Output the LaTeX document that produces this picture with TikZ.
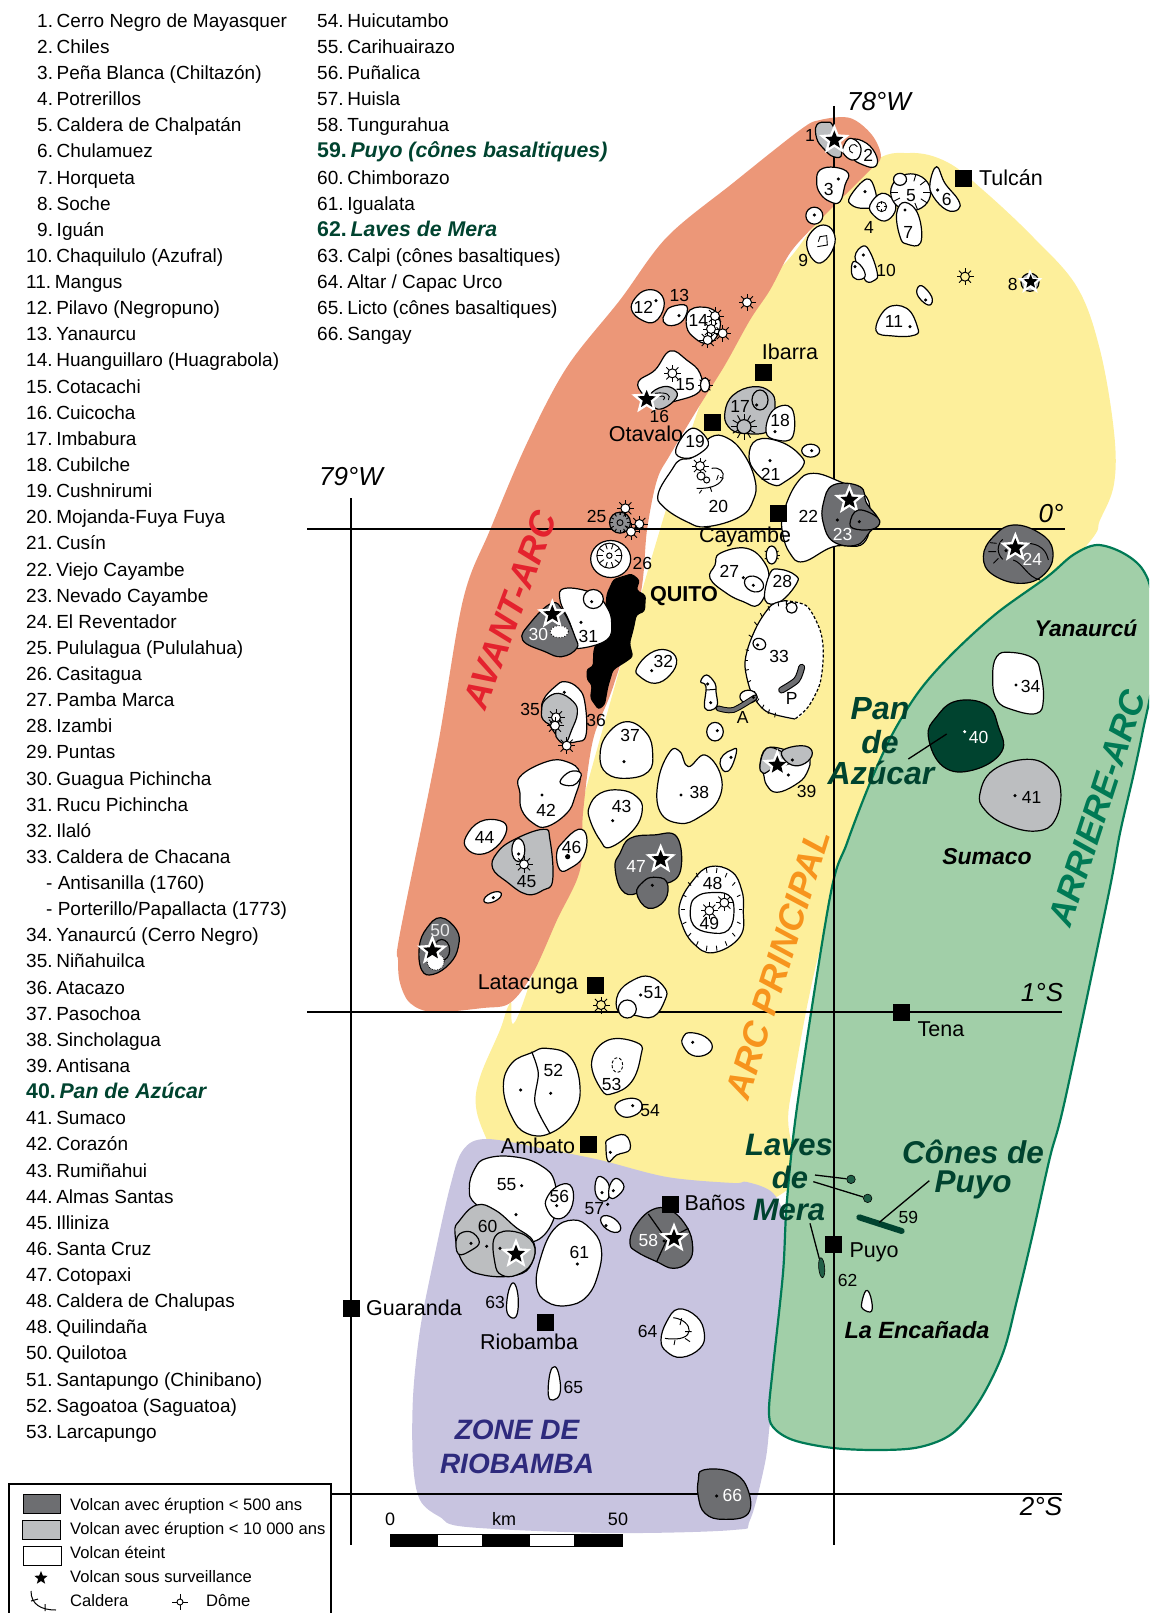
\documentclass[tikz,border=0pt]{standalone}
\usepackage{fontspec}
\setmainfont{Liberation Sans}
\usetikzlibrary{shapes.geometric}
\definecolor{zred}{HTML}{EC9778}
\definecolor{zyel}{HTML}{FDEF9B}
\definecolor{zpur}{HTML}{C8C4E0}
\definecolor{zgre}{HTML}{A1CFA8}
\definecolor{zedge}{HTML}{007A55}
\definecolor{gdark}{HTML}{6D6E71}
\definecolor{glight}{HTML}{BCBEC0}
\definecolor{dgreen}{HTML}{00432F}
\definecolor{tred}{HTML}{E4222E}
\definecolor{torange}{HTML}{F7941D}
\definecolor{tpur}{HTML}{2E2A7D}
\newcounter{nn}
\newcommand\fs[1]{\fontsize{#1}{#1}\selectfont}
\tikzset{
 zt/.style={inner sep=0pt,align=center},
 z1/.style={shift={(600,90)},x=.33333pt,y=-.33333pt},
 z2/.style={shift={(480,480)},x=.33333pt,y=-.33333pt},
 z3/.style={shift={(400,860)},x=.33333pt,y=-.33333pt},
 z5/.style={shift={(440,1130)},x=.33333pt,y=-.33333pt},
 z6/.style={shift={(780,500)},x=.33333pt,y=-.33333pt},
 z7/.style={shift={(600,400)},x=.33333pt,y=-.33333pt},
 z8/.style={shift={(740,1100)},x=.33333pt,y=-.33333pt},
 z9/.style={shift={(400,740)},x=.33333pt,y=-.33333pt},
 vol/.style={draw=black,line width=1.2pt,line join=round},
 whitestar/.style={star,star points=5,star point ratio=2.3,fill=white,draw=none,minimum size=32pt,inner sep=0pt},
 blackstar/.style={star,star points=5,star point ratio=2.3,fill=black,draw=none,minimum size=19pt,inner sep=0pt},
 city/.style={rectangle,fill=black,minimum size=17pt,inner sep=0pt},
 grat/.style={line width=1.2pt,black},
 leader/.style={line width=1.3pt,black},
}
\newcommand\vb[2][white]{\draw[vol,fill=#1] plot[smooth cycle,tension=.72] coordinates {#2};}
\newcommand\dt[2][black]{\fill[#1] (#2) circle (1.7pt);}
\newcommand\lb[3][black]{\stepcounter{nn}\node[zt,text=#1,font=\fs{17.5}] (n\arabic{nn}) at (#2) {#3};}
\newcommand\ct[2]{\stepcounter{nn}\node[zt,font=\fs{21.5}] (n\arabic{nn}) at (#1) {#2};}
\newcommand\sq[1]{\stepcounter{nn}\node[city] (n\arabic{nn}) at (#1) {};}
\newcommand\stk[1]{\stepcounter{nn}\node[whitestar] (n\arabic{nn}) at (#1) {};\stepcounter{nn}\node[blackstar] (n\arabic{nn}) at (#1) {};}
\newcommand\dome[2][white]{\begin{scope}[shift={(#2)}]\foreach \a in {0,45,...,315}{\draw[line width=.9pt] (\a:4pt) -- (\a:8.5pt);}\draw[line width=1pt,fill=#1] (0,0) circle (4.5pt);\end{scope}}
\newcommand\ticks[6][.88]{\foreach \a in {#6}{\draw[line width=.9pt] ({#2+#4*cos(\a)},{#3+#5*sin(\a)}) -- ({#2+#1*#4*cos(\a)},{#3+#1*#5*sin(\a)});}}
\def\splitnum#1. #2\nil{#1.\hspace{3.7pt}#2}
\newcommand\tl[3]{\stepcounter{nn}\node[zt,anchor=base west,font=\fs{19}] (n\arabic{nn}) at ({#2},{27.3+26.13*(#1-1)}) {\splitnum#3\nil};}
\newcommand\tm[3]{\stepcounter{nn}\node[zt,anchor=base west,font=\fs{19}] (n\arabic{nn}) at ({#2},{27.3+26.13*(#1-1)}) {#3};}
\newcommand\tg[3]{\stepcounter{nn}\node[zt,anchor=base west,font=\fs{21.3}\bfseries,text=dgreen] (n\arabic{nn}) at ({#2},{27.3+26.13*(#1-1)}) {\splitnum#3\nil};}
\newcommand\bi[4][dgreen]{\stepcounter{nn}\node[zt,text=#1,font=\fs{#3}\bfseries\itshape] (n\arabic{nn}) at (#2) {#4};}
\begin{document}
\begin{tikzpicture}[x=1pt,y=-1pt]
\useasboundingbox (0,0) rectangle (1149,1613);
\clip (0,0) rectangle (1149,1613);
% zones
\fill[zyel] plot[smooth cycle,tension=.6] coordinates {(870,165)(910,153)(947,162)(983,190)(1033,237)(1077,287)(1100,350)(1114,432)(1114,484)(1100,520)(1087,545)(1000,640)(850,860)(790,1100)(787,1190)(600,1250)(510,1185)(487,1140)(476,1107)(480,1077)(500,1030)(510,1003)(533,973)(700,405)(800,245)};
\fill[zred] plot[smooth cycle,tension=.55] coordinates {(820,120)(850,118)(872,135)(881,157)(870,170)(847,193)(815,225)(790,253)(770,290)(750,320)(725,365)(700,405)(670,455)(657,480)(647,530)(640,597)(613,687)(593,740)(583,813)(580,870)(557,920)(533,973)(510,1003)(483,1008)(433,1012)(410,1003)(400,983)(398,960)(400,933)(437,750)(463,600)(490,530)(527,443)(567,367)(620,300)(667,237)(733,183)(800,130)};
\fill[zpur] plot[smooth cycle,tension=.55] coordinates {(487,1139)(550,1150)(600,1160)(667,1177)(733,1183)(747,1182)(773,1193)(787,1223)(787,1247)(777,1380)(770,1423)(765,1463)(750,1520)(733,1530)(607,1533)(467,1527)(440,1517)(420,1500)(413,1463)(413,1397)(420,1330)(433,1263)(450,1187)(463,1150)};
\draw[draw=zedge,fill=zgre,line width=2.2pt] plot[smooth cycle,tension=.55] coordinates {(830,897)(847,843)(870,783)(893,733)(920,690)(953,653)(997,613)(1047,577)(1073,555)(1097,545)(1123,553)(1143,570)(1152,600)(1152,680)(1143,730)(1133,777)(1120,833)(1108,897)(1065,1100)(1050,1157)(1033,1233)(1017,1300)(1003,1353)(980,1400)(953,1433)(920,1447)(880,1450)(833,1448)(793,1440)(773,1427)(769,1410)(773,1367)(783,1273)(787,1200)(798,1100)};
% graticule
\coordinate (g0a) at (307,529); \coordinate (g0b) at (1065,529);
\coordinate (g1a) at (307,1012); \coordinate (g1b) at (1062,1012);
\coordinate (g2a) at (331,1494); \coordinate (g2b) at (1062,1494);
\coordinate (v79a) at (351,498); \coordinate (v79b) at (351,1545);
\coordinate (v78a) at (834,106); \coordinate (v78b) at (834,1545);
\draw[grat] (g0a)--(g0b); \draw[grat] (g1a)--(g1b); \draw[grat] (g2a)--(g2b);
\draw[grat] (v79a)--(v79b); \draw[grat] (v78a)--(v78b);
% zone names
\bi[tred]{510,610}{36}{\rotatebox{69.5}{AVANT-ARC}}
\bi[torange]{778,964}{36}{\rotatebox{72.8}{ARC PRINCIPAL}}
\bi[zedge]{1097,808}{35}{\rotatebox{72}{ARRIERE-ARC}}
\bi[tpur]{517,1430}{28}{ZONE DE}
\bi[tpur]{517,1464}{28}{RIOBAMBA}
% --- north (z1)
\begin{scope}[z1]
\vb[glight]{(650,105)(680,97)(700,110)(725,190)(700,200)(670,175)(650,145)}
\vb{(755,150)(800,160)(830,200)(825,230)(790,225)(755,200)}
\vb{(730,170)(750,145)(780,165)(778,200)(755,210)(730,190)}
\draw[line width=.9pt] (772,170) arc (-30:-260:13);
\stk{703,150}
\lb{630,135}{1}\lb{805,197}{2}
\vb{(660,240)(705,232)(745,250)(735,285)(720,335)(690,335)(660,310)(650,275)}\dt{715,267}\lb{686,298}{3}
\draw[vol,fill=white] (643,377) circle (8.5pt);\dt{643,375}
\vb{(670,405)(700,425)(702,470)(670,515)(640,510)(620,465)(635,425)}
\draw[line width=.9pt] (655,455)--(660,440)--(680,437)--(682,465)--(652,470);
\lb{610,510}{9}
\vb{(800,267)(825,300)(825,345)(790,355)(755,345)(750,320)}\dt{795,305}
\vb{(845,310)(880,330)(885,365)(855,393)(820,375)(810,345)}
\draw[line width=.9pt] (845,350) circle (5pt);
\ticks[.5]{845}{350}{13}{13}{0,90,180,270}
\lb{807,412}{4}
\draw[vol,fill=white] (932,307) ellipse (20pt and 18.5pt);
\ticks[.62]{932}{307}{60}{55}{0,35,70,110,150,180,215,250,285,320}
\draw[vol,fill=white] (900,268) ellipse (6.5pt and 6pt);
\lb{933,318}{5}
\vb{(1010,230)(1035,280)(1075,330)(1075,358)(1040,360)(1000,320)(990,280)}\dt{1013,300}\lb{1040,327}{6}
\vb{(915,337)(955,375)(962,458)(920,462)(900,440)(890,370)}\dt{915,360}\lb{925,428}{7}
\vb{(790,468)(812,490)(832,550)(825,570)(800,575)(785,545)(765,500)}\dt{790,495}
\vb{(760,515)(785,530)(795,560)(770,568)(755,550)}\dt{765,530}\lb{858,540}{10}
\vb{(965,587)(995,620)(990,645)(965,632)(950,605)}\dt{977,630}
\vb{(860,655)(920,655)(952,710)(945,735)(880,738)(828,722)}\dt{930,710}\lb{882,695}{11}
\dome[zyel]{1095,560}
\draw[vol,fill=glight] (1290,577) circle (9pt);
\stepcounter{nn}\node[star,star points=5,star point ratio=2.3,fill=white,minimum size=26pt,inner sep=0pt] (n\arabic{nn}) at (1290,577) {};
\stepcounter{nn}\node[star,star points=5,star point ratio=2.3,fill=black,minimum size=15pt,inner sep=0pt] (n\arabic{nn}) at (1292,575) {};
\lb{1238,582}{8}
\dome{441,637}
\vb{(140,600)(180,610)(192,650)(165,695)(125,690)(95,660)(105,625)}\dt{168,632}\lb{130,652}{12}
\vb{(195,670)(215,650)(260,648)(250,690)(215,707)(190,695)}\dt{237,677}\lb{238,615}{13}
\vb{(270,660)(330,655)(360,690)(350,740)(320,760)(285,745)(260,710)}\lb{295,690}{14}
\dome{345,678}\dome{333,717}\dome{368,730}\dome{323,750}
\vb{(210,783)(260,810)(300,850)(298,905)(220,935)(165,945)(130,915)(115,875)(165,840)}\lb{255,885}{15}
\dome{217,850}
\foreach \a in {0,45,...,315}{\draw[line width=.9pt] (315,885) -- ++(\a:7.5pt);}
\draw[vol,fill=white] (315,885) ellipse (4.5pt and 7pt);
\vb[glight]{(150,915)(190,890)(225,900)(228,925)(190,955)(160,950)}
\draw[line width=.9pt] (165,910)..controls (200,905) and (215,915)..(205,930);
\draw[line width=.9pt] (175,920)..controls (190,915) and (200,920)..(190,930);
\stk{140,928}\lb{178,980}{16}
\vb[glight]{(400,915)(460,890)(510,905)(525,945)(510,1020)(430,1030)(385,1010)(375,965)}
\draw[vol] (480,930) ellipse (8pt and 10pt);\dt{470,945}
\foreach \a in {0,30,...,330}{\draw[line width=.9pt] (432,1010) ++(\a:7pt) -- ++(\a:6pt);}
\draw[vol,fill=glight] (432,1010) circle (7pt);
\lb{420,950}{17}
\vb{(520,960)(575,955)(578,1040)(530,1050)(498,1025)}\dt{525,1025}\lb{540,992}{18}
\end{scope}
% --- center (z7)
\begin{scope}[z7]
\vb{(330,113)(380,113)(430,160)(465,240)(460,300)(420,350)(320,380)(260,365)(190,320)(175,280)(215,210)(240,180)(280,170)}
\vb{(275,85)(325,125)(300,160)(255,175)(227,150)}
\lb{285,125}{19}\lb{355,318}{20}
\dome{300,198}
\draw[line width=1pt,fill=white] (303,228) circle (4pt);\draw[line width=1pt,fill=white] (320,240) circle (3pt);
\draw[line width=1pt] (335,205)..controls (385,195) and (390,270)..(290,265);
\draw[line width=.9pt] (355,225)--(350,240) (330,260)--(335,275) (305,270)--(298,280) (370,235)--(360,232);
\vb{(470,120)(540,125)(600,165)(608,200)(555,245)(520,255)(470,220)(447,170)}\dt{510,182}\lb{512,222}{21}
\draw[vol,fill=white] (632,152) ellipse (9pt and 6.5pt);\dt{635,152}
\vb{(640,220)(720,245)(790,280)(810,340)(790,430)(700,440)(610,485)(570,460)(548,400)(550,340)(590,250)}\lb{625,348}{22}
\vb[gdark]{(700,255)(780,260)(800,310)(835,360)(810,395)(770,435)(700,425)(670,370)(670,310)}
\stk{748,300}\dt{712,360}
\vb[gdark]{(775,330)(835,355)(825,385)(770,388)(750,370)}\dt{778,365}
\lb[white]{728,403}{23}
\end{scope}
% --- z6 (east)
\begin{scope}[z6]
\vb[gdark]{(700,75)(780,100)(818,150)(800,215)(730,250)(640,225)(610,170)(640,110)}
\draw[line width=1pt] (668,118)..controls (650,135) and (650,160)..(668,178);
\draw[line width=.9pt] (650,130)--(630,128) (648,155)--(625,155) (655,175)--(640,190);
\draw[line width=1pt] (720,130)..controls (790,125) and (800,160)..(805,180) (700,180)..controls (730,190) and (740,230)..(780,240);
\dt{678,152}\stk{706,143}\lb[white]{757,177}{24}
\vb{(690,457)(760,475)(782,520)(790,600)(770,640)(700,630)(650,600)(638,530)(650,470)}\dt{708,555}\lb{752,560}{34}
\vb[dgreen]{(530,603)(620,615)(655,680)(665,755)(580,810)(490,800)(445,710)(470,650)}\dt[white]{554,695}\lb[white]{596,713}{40}
\vb[glight]{(740,778)(810,805)(842,870)(825,960)(770,993)(680,975)(615,930)(600,880)(640,810)}\dt{705,887}\lb{755,893}{41}
\coordinate (panA) at (385,777);\coordinate (panB) at (500,702);
\draw[leader] (panA)--(panB);
\end{scope}
% --- z2 (Quito area)
\begin{scope}[z2]
\draw[vol,fill=gdark!60!glight] (420,128) circle (10.5pt);
\draw[line width=.9pt] (420,128) circle (3pt);
\ticks[.72]{420}{128}{30}{30}{0,30,...,330}
\dome{436,85}\dome{478,132}\dome{453,155}
\lb{350,110}{25}
\draw[vol,fill=white] (392,237) ellipse (20pt and 18.5pt);
\draw[line width=1pt] (388,227) circle (12.5pt);
\draw[line width=1pt] (388,227) circle (2.7pt);
\ticks[.55]{388}{227}{37}{37}{0,36,...,324}
\lb{487,250}{26}
\fill[black,rounded corners=3pt] (400,297)--(455,280)--(480,300)--(470,330)--(498,345)--(495,395)--(470,405)--(462,445)--(450,490)--(460,530)--(440,545)--(400,570)--(385,620)--(375,675)--(355,690)--(330,655)--(335,615)--(320,600)--(320,565)--(338,560)--(340,510)--(370,430)--(380,340)--cycle;
\vb{(255,325)(340,340)(380,380)(395,430)(380,480)(300,505)(288,490)(270,430)(240,360)}
\draw[vol,fill=white] (340,357) ellipse (10pt and 9.5pt);\dt{335,365}\dt{303,427}\lb{325,468}{31}
\vb[gdark]{(215,370)(250,395)(285,470)(290,505)(245,530)(195,515)(128,480)(150,430)}
\stk{217,403}
\draw[fill=white,line width=.9pt,dotted] (238,455) ellipse (9pt and 6pt);
\lb[white]{175,463}{30}
\vb{(510,520)(560,510)(590,540)(570,585)(525,610)(480,590)(470,565)}\dt{515,572}\lb{550,543}{32}
\vb{(720,220)(800,205)(855,250)(865,310)(835,375)(790,365)(740,340)(690,295)(705,255)}\dt{790,293}
\draw[vol,rotate around={-25:(822,312)}] (822,312) ellipse (10pt and 7.5pt);\dt{820,316}\lb{748,275}{27}
\vb{(900,268)(945,285)(950,310)(900,365)(855,360)(870,280)}\lb{907,305}{28}
\foreach \a in {-30,0,30,150,210}{\draw[line width=.9pt] (875,225) -- ++(\a:8pt);}
\draw[vol,fill=white] (875,225) ellipse (5.5pt and 9pt);
% 33
\fill[white] plot[smooth cycle] coordinates {(915,362)(980,378)(1020,450)(1030,520)(1020,610)(985,680)(945,717)(860,695)(815,640)(795,560)(805,500)(835,430)(875,375)};
\draw[vol] plot[smooth] coordinates {(915,362)(875,375)(835,430)(805,500)(795,560)(815,640)(860,695)(945,717)};
\draw[vol,densely dashed] plot[smooth] coordinates {(915,362)(980,378)(1020,450)(1030,520)(1020,610)(985,680)(945,717)};
\ticks[.92]{915}{540}{120}{178}{105,115,125,135,145,158,170,180,190,205,220,232,245,260,272}
\draw[vol] (935,383) circle (5.5pt);
\draw[vol,rotate around={-25:(838,492)}] (838,492) ellipse (6.5pt and 5.5pt);\dt{833,495}
\draw[line width=7pt,black,line cap=round] plot[smooth] coordinates {(965,562)(950,600)(905,630)};
\draw[line width=4.8pt,gdark,line cap=round] plot[smooth] coordinates {(965,562)(950,600)(905,630)};
\lb{897,530}{33}\lb{935,655}{P}
\vb{(680,585)(705,610)(708,635)(710,680)(675,685)(678,620)(662,605)}
\draw[line width=1pt] (678,630)--(708,628);\dt{683,612}\dt{692,668}
\draw[vol,fill=white] (805,650) ellipse (8.5pt and 6.5pt);
\draw[line width=5.8pt,black,line cap=round] plot[smooth] coordinates {(715,685)(760,690)(825,652)};
\draw[line width=3.8pt,gdark,line cap=round] plot[smooth] coordinates {(715,685)(760,690)(825,652)};
\dt{820,652}\lb{788,712}{A}
\vb{(225,620)(255,605)(295,625)(315,670)(318,765)(290,785)(250,785)(225,760)(190,700)(190,660)}
\vb[glight]{(195,660)(235,640)(280,665)(292,700)(275,750)(255,790)(228,770)(225,745)(190,720)(185,690)}
\dt{253,637}\dome{228,712}\dome{225,737}\dome{260,797}
\lb{150,687}{35}\lb{348,720}{36}
\vb{(440,725)(500,760)(518,820)(505,875)(440,895)(380,880)(360,830)(380,765)}\dt{432,845}\lb{450,767}{37}
\vb{(570,815)(600,815)(625,860)(675,825)(722,885)(715,960)(660,1010)(600,1030)(540,995)(535,900)}\dt{603,945}\lb{658,938}{38}
\draw[vol,fill=white] (705,755) ellipse (8.3pt and 9.3pt);\dt{712,752}
\vb{(755,810)(770,810)(755,860)(735,875)(720,850)(730,825)}\dt{753,832}
\vb{(860,805)(920,810)(985,830)(980,880)(945,915)(890,937)(860,915)(850,880)(840,855)}
\vb[glight]{(860,805)(905,815)(935,845)(880,865)(850,880)(840,855)}
\stk{892,855}
\vb[glight]{(920,805)(975,798)(997,820)(975,850)(935,855)(905,825)}
\dt{937,840}\dt{925,885}\lb{980,935}{39}
\end{scope}
% --- z9
\begin{scope}[z9]
\vb{(360,110)(440,65)(500,65)(540,100)(525,170)(500,220)(440,260)(400,250)(365,210)(360,160)}
\vb{(480,125)(510,95)(543,100)(530,130)(505,137)}
\dt{426,165}\lb{438,210}{42}
\vb{(600,160)(660,150)(710,170)(727,210)(700,270)(630,322)(600,300)(570,240)(568,200)}\dt{638,242}\lb{665,200}{43}
\vb{(240,245)(300,242)(320,270)(290,320)(240,343)(200,325)(198,290)}\lb{254,292}{44}
\vb[glight]{(430,268)(450,300)(458,420)(430,450)(380,463)(320,425)(278,385)(290,340)(340,300)}
\draw[vol,fill=white] (355,330) ellipse (6.5pt and 11.5pt);\dt{356,342}\dome{372,373}\lb{380,425}{45}
\vb{(535,268)(560,290)(550,350)(510,385)(480,390)(470,340)(490,305)}\fill (503,350) circle (2.6pt);\lb{515,322}{46}
\draw[vol,fill=white,rotate around={25:(278,472)}] (278,472) ellipse (9.5pt and 4.5pt);\dt{280,473}
\vb[gdark]{(690,295)(760,285)(830,290)(842,390)(800,430)(760,412)(710,460)(665,450)(645,380)(660,340)}
\stk{782,358}\lb[white]{708,380}{47}
\vb[gdark]{(760,412)(800,425)(795,480)(745,505)(710,460)(730,425)}\dt{757,436}
\vb{(930,380)(995,395)(1025,450)(1030,510)(1020,590)(940,638)(880,610)(845,550)(840,490)(880,420)}
\ticks{935}{508}{92}{126}{0,20,...,340}
\vb{(930,458)(985,465)(1002,510)(985,570)(930,578)(880,555)(872,500)(890,470)}
\dome{928,512}\dome{973,488}\lb{938,430}{48}\lb{928,550}{49}
\vb[gdark]{(122,533)(170,570)(175,620)(150,670)(100,703)(65,690)(58,620)(80,565)}
\draw[vol] (125,630) ellipse (8pt and 10.5pt);
\draw[fill=white,line width=.8pt,densely dotted] (107,665) circle (8.5pt);
\stk{97,632}\lb[white!85!gdark]{120,572}{50}
\end{scope}
% --- z3
\begin{scope}[z3]
\vb{(700,360)(750,350)(795,385)(795,420)(760,470)(700,465)(655,455)(655,400)}
\draw[vol,fill=white] (682,447) circle (9pt);\dt{722,405}\lb{760,397}{51}
\dome[zyel]{603,435}
\vb{(870,518)(915,530)(937,560)(915,585)(875,585)(848,555)(850,530)}\dt{878,547}
\vb{(440,565)(510,590)(540,680)(520,760)(450,820)(380,820)(335,770)(310,680)(335,610)(395,578)}
\draw[vol] plot[smooth] coordinates {(395,575)(415,640)(405,730)(450,820)};
\dt{362,690}\dt{452,700}\lb{460,630}{52}
\vb{(625,540)(715,550)(722,590)(695,665)(640,700)(605,690)(575,605)}
\draw[line width=.9pt,densely dashed] (652,615) ellipse (5.3pt and 7.3pt);\lb{635,672}{53}
\vb{(690,715)(722,725)(720,755)(680,772)(650,755)(650,730)}\dt{698,737}\lb{750,752}{54}
\vb{(625,838)(675,825)(690,868)(650,885)(625,905)(618,860)}\dt{631,877}
\vb{(260,895)(340,890)(420,915)(465,970)(460,1080)(400,1145)(340,1110)(230,1035)(208,985)(225,925)}
\dt{365,977}\dt{348,1064}\lb{320,975}{55}
\vb{(470,980)(510,975)(520,1020)(500,1065)(465,1075)(440,1045)(440,1015)}\dt{470,1037}\lb{478,1008}{56}
\vb{(595,950)(625,970)(625,1015)(600,1020)(585,990)}\dt{606,998}
\vb{(650,955)(672,980)(650,1010)(628,1012)(630,975)}\dt{640,992}
\lb{583,1047}{57}\dt{623,1033}
\draw[vol,fill=white,rotate around={-35:(632,1092)}] (632,1092) ellipse (11.5pt and 6.5pt);\dt{618,1097}
\end{scope}
% --- z5
\begin{scope}[z5]
\vb[gdark]{(635,240)(690,240)(740,290)(758,350)(745,395)(700,415)(650,395)(590,365)(570,340)(585,290)}
\draw[vol] (625,252)--(680,330)--(650,395) (680,330)--(745,295);
\dt{672,333}\stk{702,325}\lb[white]{625,330}{58}
\vb[glight]{(110,225)(165,240)(225,290)(280,335)(275,400)(230,435)(130,435)(70,400)(45,310)(60,270)}
\vb[glight]{(52,320)(90,305)(118,335)(95,360)(55,372)}\dt{93,340}
\vb[glight]{(165,320)(225,305)(280,340)(275,400)(230,435)(185,435)(165,400)}
\dt{180,355}\dt{140,349}\stk{228,372}\lb{143,288}{60}
\vb{(400,270)(450,295)(483,350)(475,430)(440,500)(380,527)(320,515)(290,470)(300,390)(340,300)}\dt{412,402}\lb{418,368}{61}
\vb{(225,463)(235,510)(228,560)(205,555)(200,520)(210,470)}\lb{165,518}{63}
\vb{(715,537)(770,560)(793,610)(780,655)(725,682)(680,665)(663,630)(680,575)}
\draw[line width=1pt] (700,563)..controls (760,570) and (775,640)..(675,625);
\draw[line width=.9pt] (725,565)--(720,585) (755,605)--(735,605) (750,635)--(735,625) (705,630)--(702,645);
\lb{623,603}{64}
\vb{(345,710)(358,740)(360,790)(340,810)(325,795)(330,730)}\lb{400,773}{65}
\vb[gdark]{(790,1020)(870,1025)(920,1070)(925,1150)(850,1168)(795,1150)(775,1100)(775,1050)}\dt{830,1098}\lb[white]{877,1097}{66}
\end{scope}
% --- z8
\begin{scope}[z8]
\node[circle,fill=dgreen!80!zgre,draw=black,line width=.6pt,minimum size=8.5pt,inner sep=0pt] (m1) at (333,238) {};
\node[circle,fill=dgreen!80!zgre,draw=black,line width=.6pt,minimum size=8.5pt,inner sep=0pt] (m2) at (383,295) {};
\node[ellipse,fill=dgreen!80!zgre,draw=black,line width=.6pt,minimum width=6pt,minimum height=20pt,inner sep=0pt,rotate=5] (m3) at (245,503) {};
\coordinate (la1) at (225,225);\coordinate (la2) at (220,245);\coordinate (la3) at (210,370);\coordinate (la4) at (568,242);
\coordinate (s1) at (358,352);\coordinate (s2) at (485,393);\coordinate (s3) at (418,367);
\draw[leader] (la1)--(m1);\draw[leader] (la2)--(m2);\draw[leader] (la3)--(m3);
\draw[line width=6pt,dgreen,line cap=round] (s1)--(s2);
\draw[leader] (la4)--(s3);
\lb{505,353}{59}\lb{323,540}{62}
\vb{(378,572)(392,590)(395,633)(370,628)(365,610)}
\end{scope}
% titles
\bi{880,709}{32}{Pan}\bi{880,742}{32}{de}\bi{881,773}{32}{Azúcar}
\bi{789,1145}{31}{Laves}\bi{790,1177}{31}{de}\bi{789,1210}{31}{Mera}
\bi{973,1152}{31.5}{Cônes de}\bi{973,1185}{31.5}{Puyo}
\bi[black]{1086,628}{22.7}{Yanaurcú}\bi[black]{987,857}{23}{Sumaco}\bi[black]{917,1330}{23.5}{La Encañada}
\stepcounter{nn}\node[zt,font=\fs{21.6}\bfseries] (n\arabic{nn}) at (684,596) {QUITO};
% cities
\sq{963,179}\ct{1011,178}{Tulcán}
\sq{763,372}\ct{790,352}{Ibarra}
\sq{712,422}\ct{646,434}{Otavalo}
\sq{778,513}\ct{745,537}{Cayambe}
\sq{595,985}\ct{528,984}{Latacunga}
\sq{588,1144}\ct{538,1146}{Ambato}
\sq{670,1204}\ct{715,1203}{Baños}
\sq{833,1244}\ct{874,1252}{Puyo}
\sq{545,1322}\ct{529,1342}{Riobamba}
\sq{351,1308}\ct{414,1308}{Guaranda}
\sq{901,1012}\ct{941,1029}{Tena}
% graticule labels
\stepcounter{nn}\node[zt,font=\fs{26}\itshape] (n\arabic{nn}) at (879,102) {78°W};
\stepcounter{nn}\node[zt,font=\fs{26}\itshape] (n\arabic{nn}) at (351,477) {79°W};
\stepcounter{nn}\node[zt,font=\fs{26}\itshape] (n\arabic{nn}) at (1051,514) {0°};
\stepcounter{nn}\node[zt,font=\fs{26}\itshape] (n\arabic{nn}) at (1042,993) {1°S};
\stepcounter{nn}\node[zt,font=\fs{26}\itshape] (n\arabic{nn}) at (1041,1507) {2°S};
% scale bar
\foreach \a/\b/\c in {390/437/black,437/482/white,482/529/black,529/574/white,574/622/black}{\draw[line width=1pt,fill=\c] (\a,1534) rectangle (\b,1546);}
\node[zt,font=\fs{18}] (sc0) at (390,1519) {0};
\node[zt,font=\fs{18}] (sckm) at (504,1519) {km};
\node[zt,font=\fs{18}] (sc50) at (618,1519) {50};
% left list
\tl{1}{37}{1. Cerro Negro de Mayasquer}
\tl{2}{37}{2. Chiles}
\tl{3}{37}{3. Peña Blanca (Chiltazón)}
\tl{4}{37}{4. Potrerillos}
\tl{5}{37}{5. Caldera de Chalpatán}
\tl{6}{37}{6. Chulamuez}
\tl{7}{37}{7. Horqueta}
\tl{8}{37}{8. Soche}
\tl{9}{37}{9. Iguán}
\tl{10}{26}{10. Chaquilulo (Azufral)}
\tl{11}{26}{11. Mangus}
\tl{12}{26}{12. Pilavo (Negropuno)}
\tl{13}{26}{13. Yanaurcu}
\tl{14}{26}{14. Huanguillaro (Huagrabola)}
\tl{15}{26}{15. Cotacachi}
\tl{16}{26}{16. Cuicocha}
\tl{17}{26}{17. Imbabura}
\tl{18}{26}{18. Cubilche}
\tl{19}{26}{19. Cushnirumi}
\tl{20}{26}{20. Mojanda-Fuya Fuya}
\tl{21}{26}{21. Cusín}
\tl{22}{26}{22. Viejo Cayambe}
\tl{23}{26}{23. Nevado Cayambe}
\tl{24}{26}{24. El Reventador}
\tl{25}{26}{25. Pululagua (Pululahua)}
\tl{26}{26}{26. Casitagua}
\tl{27}{26}{27. Pamba Marca}
\tl{28}{26}{28. Izambi}
\tl{29}{26}{29. Puntas}
\tl{30}{26}{30. Guagua Pichincha}
\tl{31}{26}{31. Rucu Pichincha}
\tl{32}{26}{32. Ilaló}
\tl{33}{26}{33. Caldera de Chacana}
\tm{34}{46}{- Antisanilla (1760)}
\tm{35}{46}{- Porterillo/Papallacta (1773)}
\tl{36}{26}{34. Yanaurcú (Cerro Negro)}
\tl{37}{26}{35. Niñahuilca}
\tl{38}{26}{36. Atacazo}
\tl{39}{26}{37. Pasochoa}
\tl{40}{26}{38. Sincholagua}
\tl{41}{26}{39. Antisana}
\tg{42}{26}{40. \textit{Pan de Azúcar}}
\tl{43}{26}{41. Sumaco}
\tl{44}{26}{42. Corazón}
\tl{45}{26}{43. Rumiñahui}
\tl{46}{26}{44. Almas Santas}
\tl{47}{26}{45. Illiniza}
\tl{48}{26}{46. Santa Cruz}
\tl{49}{26}{47. Cotopaxi}
\tl{50}{26}{48. Caldera de Chalupas}
\tl{51}{26}{48. Quilindaña}
\tl{52}{26}{50. Quilotoa}
\tl{53}{26}{51. Santapungo (Chinibano)}
\tl{54}{26}{52. Sagoatoa (Saguatoa)}
\tl{55}{26}{53. Larcapungo}
% right list
\tl{1}{317}{54. Huicutambo}
\tl{2}{317}{55. Carihuairazo}
\tl{3}{317}{56. Puñalica}
\tl{4}{317}{57. Huisla}
\tl{5}{317}{58. Tungurahua}
\tg{6}{317}{59. \textit{Puyo (cônes basaltiques)}}
\tl{7}{317}{60. Chimborazo}
\tl{8}{317}{61. Igualata}
\tg{9}{317}{62. \textit{Laves de Mera}}
\tl{10}{317}{63. Calpi (cônes basaltiques)}
\tl{11}{317}{64. Altar / Capac Urco}
\tl{12}{317}{65. Licto (cônes basaltiques)}
\tl{13}{317}{66. Sangay}
% legend
\draw[line width=1.8pt,fill=white] (9,1484) rectangle (331,1625);
\draw[line width=1pt,fill=gdark] (23.3,1494.3) rectangle (60.7,1513.3);
\draw[line width=1pt,fill=glight] (22,1520) rectangle (60,1539);
\draw[line width=1pt,fill=white] (23,1546) rectangle (61,1565);
\node[zt,anchor=base west,font=\fs{16.6}] (le1) at (70,1510) {Volcan avec éruption < 500 ans};
\node[zt,anchor=base west,font=\fs{16.6}] (le2) at (70,1534) {Volcan avec éruption < 10 000 ans};
\node[zt,anchor=base west,font=\fs{16.6}] (le3) at (70,1558) {Volcan éteint};
\node[zt,anchor=base west,font=\fs{16.6}] (le4) at (70,1582) {Volcan sous surveillance};
\node[zt,anchor=base west,font=\fs{16.6}] (le5) at (70,1606) {Caldera};
\node[zt,anchor=base west,font=\fs{16.6}] (le6) at (206,1606) {Dôme};
\node[star,star points=5,star point ratio=2.3,fill=black,minimum size=14pt,inner sep=0pt] (le7) at (41,1578) {};
\draw[line width=1pt] (31,1591)..controls (31,1605) and (42,1610)..(56,1610);
\draw[line width=1pt] (31,1601)--(38,1599) (45,1604)--(45,1611);
\draw[line width=.8pt] (172,1602)--(188,1602) (180,1594)--(180,1610);
\draw[line width=.9pt,fill=white] (180,1602) circle (3pt);
\end{tikzpicture}
\end{document}
